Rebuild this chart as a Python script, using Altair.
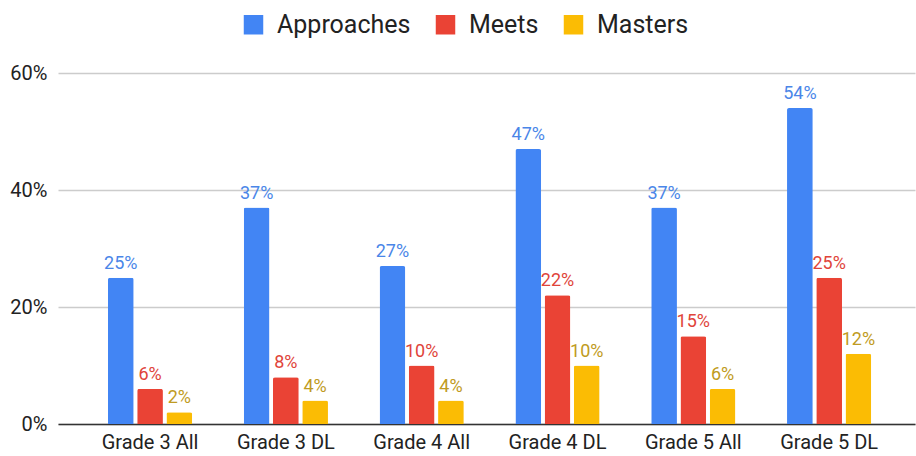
import altair as alt
import pandas as pd

# Share of students at each performance level, by grade and group
categories = ["Grade 3 All", "Grade 3 DL", "Grade 4 All", "Grade 4 DL", "Grade 5 All", "Grade 5 DL"]
series = ["Approaches", "Meets", "Masters"]
approaches = [0.25, 0.37, 0.27, 0.47, 0.37, 0.54]
meets = [0.06, 0.08, 0.10, 0.22, 0.15, 0.25]
masters = [0.02, 0.04, 0.04, 0.10, 0.06, 0.12]

bar_colors = ["#4285F4", "#EA4335", "#FBBC04"]
label_colors = ["#4a86e8", "#e0443a", "#bf9b22"]

rows = []
for name, values in zip(series, [approaches, meets, masters]):
    for cat, v in zip(categories, values):
        rows.append({"category": cat, "level": name, "value": v})
df = pd.DataFrame(rows)

FONT = "Roboto"

x_enc = alt.X(
    "category:N",
    sort=categories,
    title=None,
    scale=alt.Scale(paddingInner=0.38, paddingOuter=0.345, align=0.533),
    axis=alt.Axis(
        labelAngle=0,
        labelFontSize=20,
        labelColor="#222222",
        labelFont=FONT,
        labelPadding=8,
        ticks=False,
        domain=True,
        domainColor="#333333",
        domainWidth=1.5,
        grid=False,
    ),
)
xoff_enc = alt.XOffset(
    "level:N",
    sort=series,
    scale=alt.Scale(paddingInner=0.12, paddingOuter=0),
)
y_enc = alt.Y(
    "value:Q",
    title=None,
    scale=alt.Scale(domain=[0, 0.6], nice=False),
    axis=alt.Axis(
        values=[0, 0.2, 0.4, 0.6],
        format=".0%",
        labelFontSize=20,
        labelColor="#222222",
        labelFont=FONT,
        labelPadding=11,
        ticks=False,
        domain=False,
        gridColor="#cccccc",
        gridWidth=1.3,
    ),
)

bars = alt.Chart(df).mark_bar(cornerRadiusTopLeft=2, cornerRadiusTopRight=2).encode(
    x=x_enc,
    xOffset=xoff_enc,
    y=y_enc,
    color=alt.Color(
        "level:N",
        sort=series,
        scale=alt.Scale(domain=series, range=bar_colors),
        legend=alt.Legend(
            title=None,
            orient="none",
            direction="horizontal",
            legendX=183,
            legendY=-61,
            symbolType="square",
            symbolSize=380,
            symbolStrokeWidth=0,
            labelFontSize=25,
            labelFont=FONT,
            labelColor="#222222",
            labelOffset=11,
            columnPadding=22,
        ),
    ),
)

labels = alt.Chart(df).mark_text(
    baseline="alphabetic", dy=-9, fontSize=18, font=FONT
).encode(
    x=x_enc,
    xOffset=xoff_enc,
    y=y_enc,
    text=alt.Text("value:Q", format=".0%"),
    color=alt.Color(
        "level:N",
        sort=series,
        scale=alt.Scale(domain=series, range=label_colors),
        legend=None,
    ),
)

chart = (
    alt.layer(bars, labels)
    .resolve_scale(color="independent")
    .properties(
        width=857,
        height=351,
        background="white",
        autosize=alt.AutoSizeParams(type="none"),
        padding={"left": 58, "top": 73, "right": 1, "bottom": 32},
    )
    .configure_view(strokeWidth=0)
)

chart.save("out.html", embed_options={"renderer": "svg", "actions": False})
